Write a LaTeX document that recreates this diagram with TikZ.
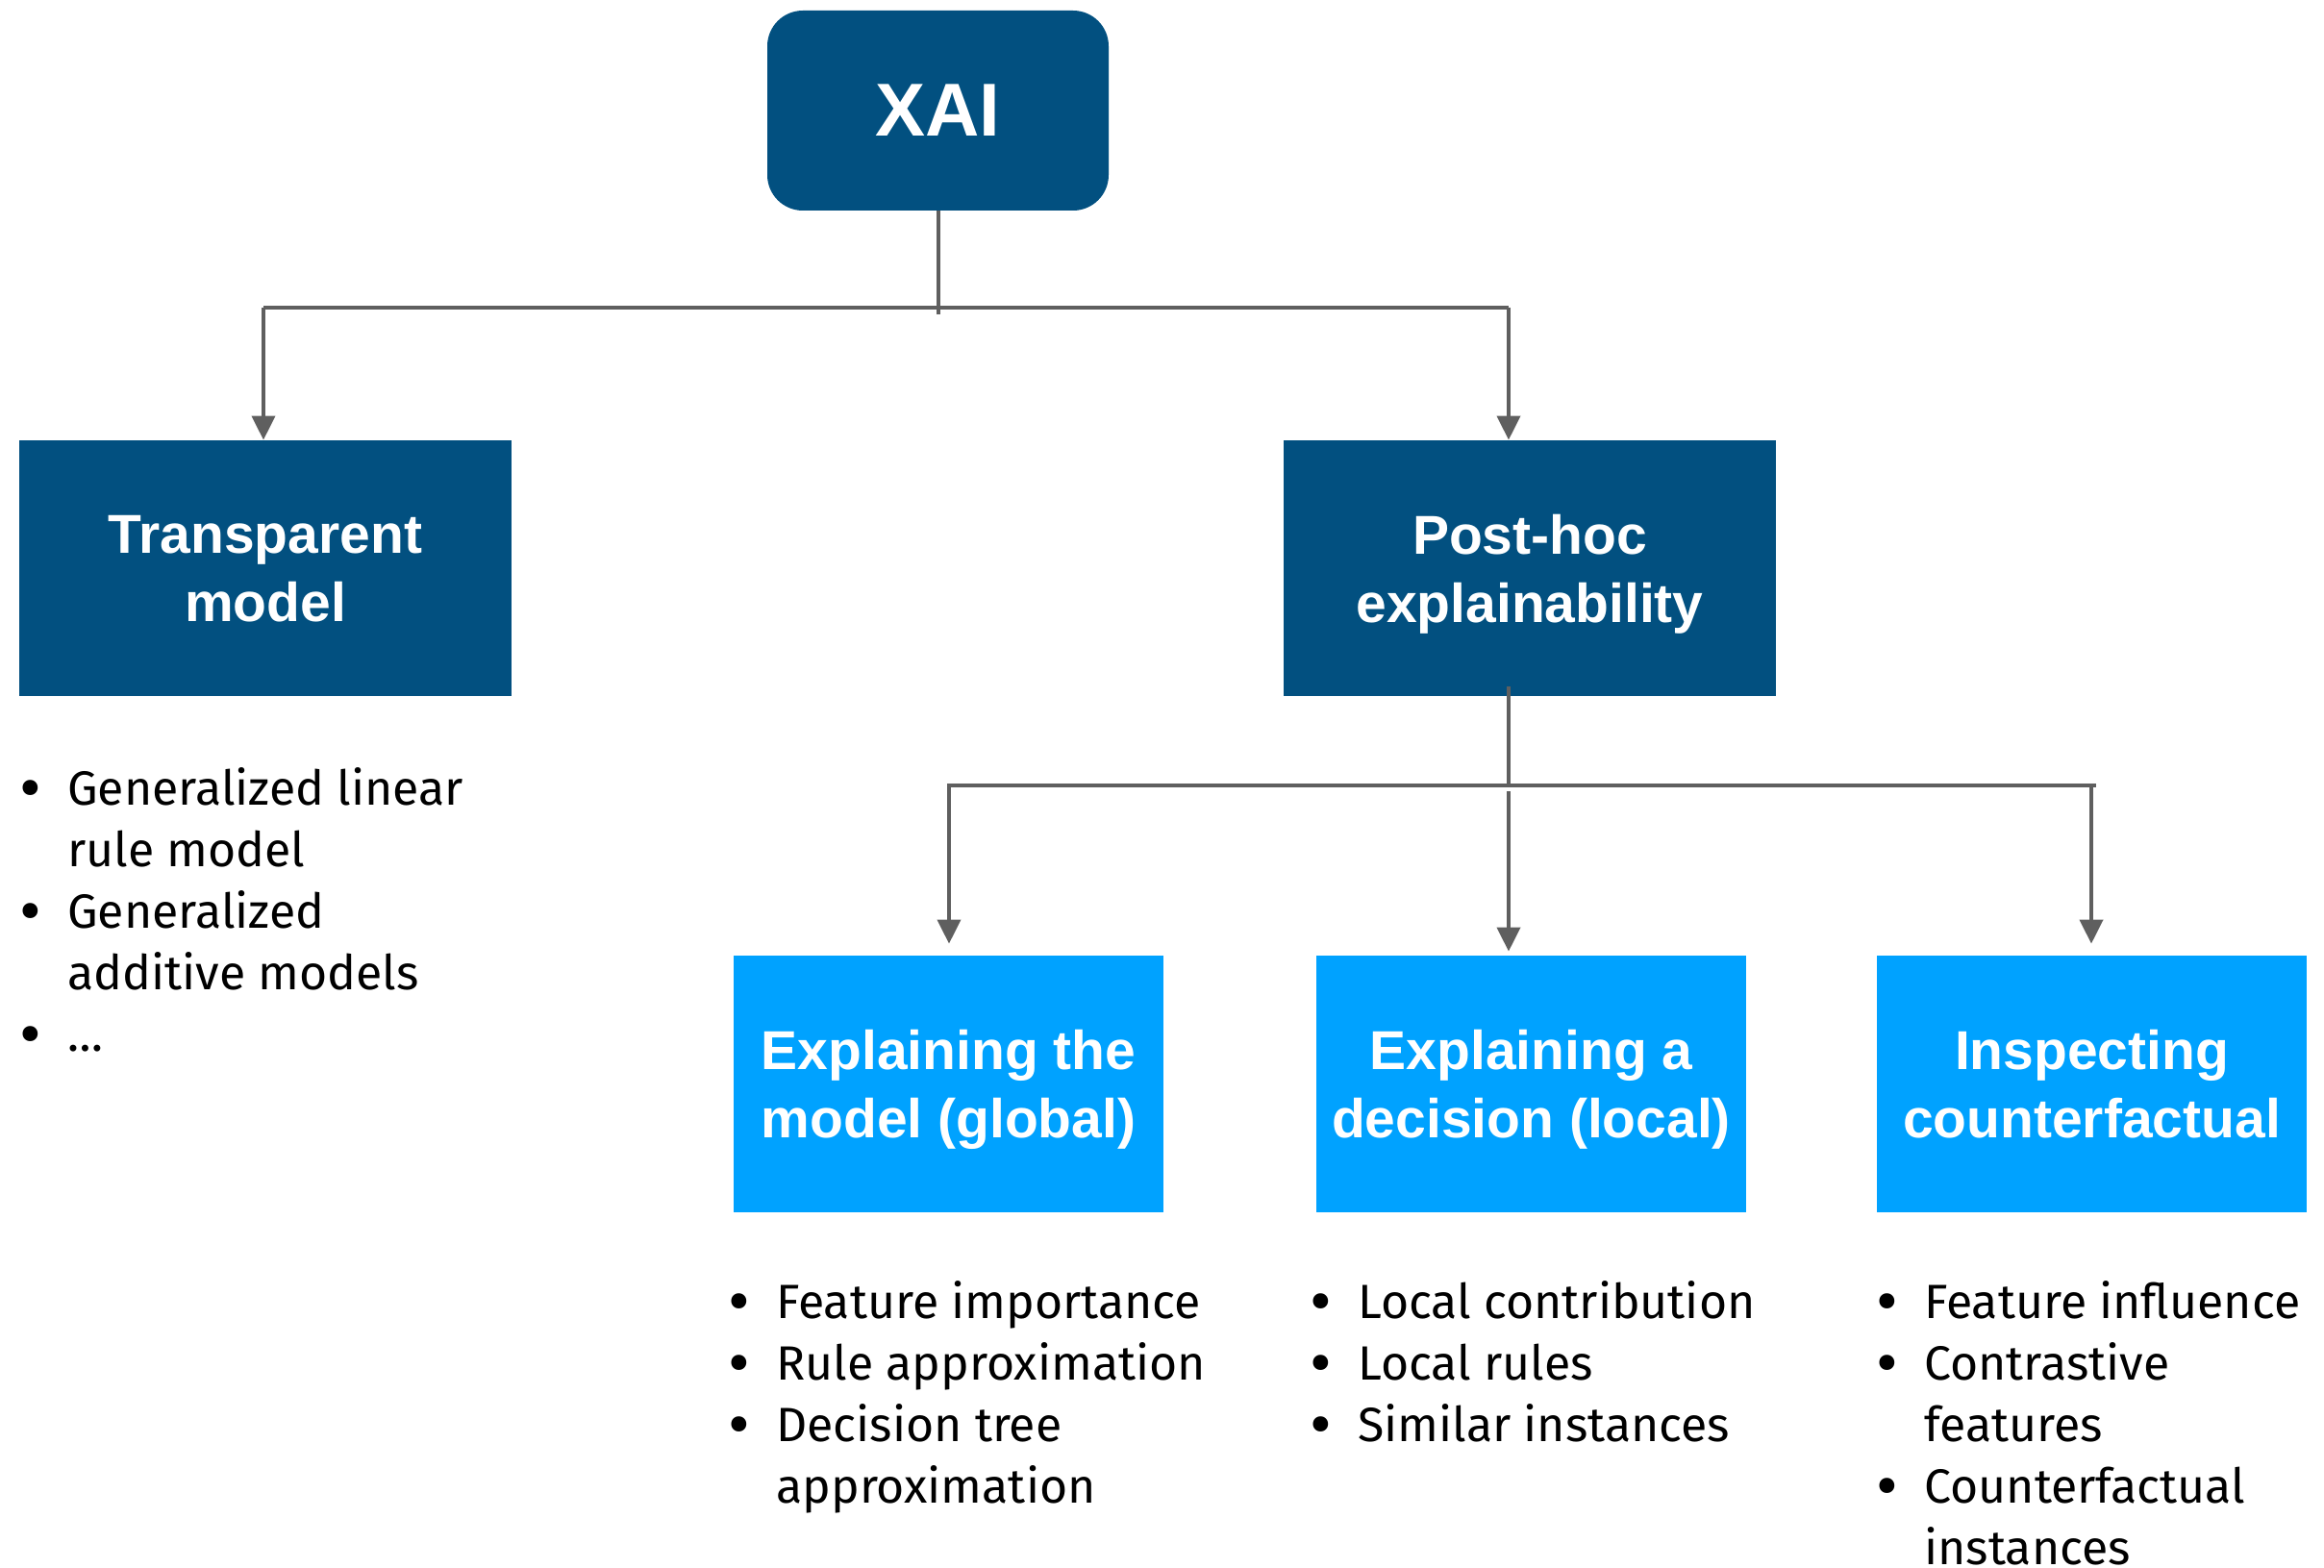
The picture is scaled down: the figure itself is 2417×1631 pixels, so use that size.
\documentclass[tikz,border=0pt]{standalone}
\usepackage{fontspec}
\setmainfont{Fira Sans}
\newfontfamily\boxfont{Liberation Sans}
\usetikzlibrary{arrows.meta}
\definecolor{darkblue}{RGB}{2,80,128}
\definecolor{lightblue}{RGB}{0,162,255}
\definecolor{conncol}{RGB}{95,95,95}
\newcommand{\bitem}{\makebox[25pt][l]{\raisebox{-3pt}{\scalebox{1.4}{\textbullet}}}}
\newcommand{\bskip}{\hphantom{\bitem}}
\tikzset{
  boxbase/.style={rectangle, inner sep=0pt, text=white, align=center,
    font=\boxfont\bfseries\fontsize{28.5}{35.5}\selectfont},
  darkbox/.style={boxbase, fill=darkblue, minimum width=256pt, minimum height=133pt},
  lightbox/.style={boxbase, fill=lightblue, minimum width=223.5pt, minimum height=133.5pt},
  listtext/.style={inner sep=0pt, anchor=base west, text=black,
    font=\fontsize{25}{32}\selectfont},
  conn/.style={draw=conncol, line width=2pt},
  arr/.style={conn, -{Triangle[length=12.5pt,width=12pt]}}
}
\begin{document}
\begin{tikzpicture}[x=0.5pt,y=-0.5pt]
\useasboundingbox (0,0) rectangle (2417,1631);
% nodes
\node[boxbase, fill=darkblue, rounded corners=18.5pt, minimum width=177.5pt, minimum height=104pt,
  font=\boxfont\bfseries\fontsize{39}{45}\selectfont] (xai) at (975.5,115) {XAI};
\node[darkbox] (trans) at (276,591) {Transparent\\\smash{model}};
\node[darkbox] (post) at (1591,591) {Post-hoc\\\smash{explainability}};
\node[lightbox] (global) at (986.5,1127.5) {Explaining the\\\smash{model (global)}};
\node[lightbox] (local) at (1592.5,1127.5) {Explaining a\\\smash{decision (local)}};
\node[lightbox] (cf) at (2175.5,1127.5) {Inspecting\\\smash{counterfactual}};
% lists
\node[listtext] (tlist) at (20,837) {\begin{tabular}[t]{@{}l@{}}
\bitem Generalized linear\\ \bskip rule model\\ \bitem Generalized\\ \bskip additive models\\ \bitem \ldots
\end{tabular}};
\node[listtext] (glist) at (757,1371) {\begin{tabular}[t]{@{}l@{}}
\bitem Feature importance\\ \bitem Rule approximation\\ \bitem Decision tree\\ \bskip approximation
\end{tabular}};
\node[listtext] (llist) at (1362,1371) {\begin{tabular}[t]{@{}l@{}}
\bitem Local contribution\\ \bitem Local rules\\ \bitem Similar instances
\end{tabular}};
\node[listtext] (clist) at (1951,1371) {\begin{tabular}[t]{@{}l@{}}
\bitem Feature influence\\ \bitem Contrastive\\ \bskip features\\ \bitem Counterfactual\\ \bskip instances
\end{tabular}};
% connectors top level
\coordinate (j0) at (975.5,327);
\coordinate (ja) at (274,320);
\coordinate (jb) at (1569,320);
\draw[conn] (xai.south) -- (j0);
\draw[conn] (ja) -- (jb);
\draw[arr] (ja) -- (ja |- trans.north);
\draw[arr] (jb) -- (jb |- post.north);
% connectors second level
\coordinate (pj) at (1569,817);
\coordinate (pl) at (985,817);
\coordinate (pr) at (2180,817);
\coordinate (pm) at (1569,823);
\coordinate (pa) at (987,817);
\coordinate (pb) at (2175,817);
\draw[conn] ([yshift=5pt]post.south -| pj) -- (pj);
\draw[conn] (pl) -- (pr);
\draw[arr, shorten >=6pt] (pa) -- (pa |- global.north);
\draw[arr, shorten >=2pt] (pm) -- (pm |- local.north);
\draw[arr, shorten >=6pt] (pb) -- (pb |- cf.north);
\end{tikzpicture}
\end{document}
